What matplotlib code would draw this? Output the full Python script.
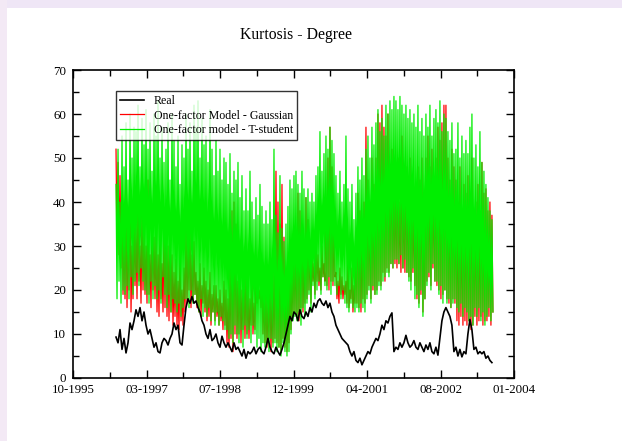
import matplotlib
matplotlib.use("Agg")
import matplotlib.pyplot as plt
from matplotlib.patches import Rectangle
from matplotlib.ticker import FixedLocator, MultipleLocator
import matplotlib.dates as mdates
import pandas as pd

plt.rcParams["font.family"] = ["Liberation Serif", "DejaVu Serif"]

title = "Kurtosis - Degree"
series_names = ["Real", "One-factor Model - Gaussian", "One-factor model - T-student"]
tick_labels = ["10-1995", "03-1997", "07-1998", "12-1999", "04-2001", "08-2002", "01-2004"]
axis_start, axis_end = "1995-10-01", "2004-01-01"
data_start, data_end = "1996-07-21", "2003-08-10"
real_end = "2003-08-03"

real = [
    9.3, 8, 11, 6.5, 9, 5.7,
    8, 12.5, 11,
    13, 15.5, 14, 16, 13, 15,
    12, 10, 11,
    9, 7, 8, 6, 5.7,
    8, 9, 8.5, 7.5, 9,
    10, 12.5, 11, 12, 8,
    7.5, 12, 16, 18, 17,
    18.5, 17, 17.5, 16, 15,
    13, 12, 10, 9, 11, 8.5,
    9, 10, 8, 7, 9.5, 8, 7, 8,
    7, 6, 8, 6.5, 7,
    6, 5, 6.5, 4.5, 6, 5.5,
    6, 7, 5.5, 6.5, 7, 6, 5.5, 7, 9,
    7, 6, 5.5, 7, 6, 5.2, 6.5,
    8, 10, 12,
    14, 13, 15, 14.5, 13, 15.5, 14, 13.5, 15,
    14, 16, 15, 17, 16, 17.5,
    18, 17, 16.5, 17.5, 16, 17, 15,
    14, 12, 11, 10, 9, 8.5, 8, 7.5,
    6, 5, 6, 4, 3.5, 4.5, 3, 4,
    5, 6, 5.5, 7, 8, 9, 8.5,
    10, 12, 11, 13, 12.5, 14, 14.8,
    6, 7, 6.5, 8,
    7, 8, 9.7, 8, 7, 7.5, 8.5, 7, 6.5, 8, 7, 6, 7.5, 6.5,
    8, 6, 5.5, 7, 5.2,
    9, 13, 15, 16,
    15, 14, 12,
    6, 7, 5, 6.5, 4.8, 6, 5.5,
    10, 13.3, 11,
    6.5, 7, 5.5, 6,
    5.5, 6, 4.5, 5, 4, 3.5,
]

gaussian = [
    52, 30, 49, 28, 46, 25, 40, 19, 35, 18,
    40, 16, 35, 20, 45, 15, 30, 18, 38, 21,
    35, 18, 42, 22, 30, 17, 38, 20, 33, 19,
    30, 17, 45, 19, 28, 16, 36, 20, 32, 18,
    33, 15, 28, 14, 40, 18, 26, 15, 35, 16,
    38, 14, 30, 13, 36, 15, 28, 12, 24, 14,
    27, 12, 22, 11, 30, 13, 20, 12, 25, 15,
    35, 17, 30, 20, 33, 16, 28, 18, 31, 19,
    24, 16, 22, 15, 26, 14, 21, 17, 25, 15,
    22, 13, 20, 14, 24, 12, 19, 15, 21, 13,
    21, 14, 18, 12, 20, 13, 17, 11, 22, 12,
    20, 8, 18, 7, 25, 9, 38, 6, 40, 10,
    35, 9, 22, 10, 25, 8, 20, 11, 24, 9,
    25, 10, 20, 9, 18, 12, 23, 10, 17, 11,
    24, 17, 22, 18, 20, 16, 23, 10, 19, 8,
    20, 7, 18, 9, 22, 6, 19, 8, 24, 9,
    47, 8, 40, 7, 35, 6, 44, 9, 32, 7,
    22, 6, 20, 8, 28, 11, 25, 14, 30, 15,
    30, 14, 42, 13, 38, 16, 35, 15, 28, 17,
    41, 18, 36, 20, 30, 17, 28, 22, 26, 19,
    30, 22, 28, 21, 25, 20, 30, 23, 26, 22,
    40, 21, 50, 20, 57, 22, 48, 21, 35, 23,
    24, 18, 22, 17, 25, 19, 23, 18, 21, 19,
    22, 17, 30, 16, 20, 18, 25, 15, 21, 17,
    30, 17, 42, 16, 38, 15, 32, 18, 40, 17,
    57, 19, 45, 21, 40, 18, 50, 20, 44, 19,
    50, 20, 60, 22, 58, 21, 62, 24, 57, 22,
    55, 25, 60, 24, 48, 26, 52, 25, 45, 26,
    45, 25, 50, 26, 40, 24, 55, 25, 42, 24,
    48, 24, 44, 23, 50, 22, 46, 24, 40, 21,
    42, 18, 48, 17, 45, 19, 50, 15, 40, 18,
    50, 22, 55, 23, 48, 21, 52, 25, 45, 22,
    50, 21, 57, 20, 54, 18, 58, 19, 62, 20,
    62, 18, 50, 17, 45, 16, 52, 18, 48, 17,
    45, 13, 40, 12, 48, 14, 38, 12, 44, 13,
    42, 12, 46, 13, 40, 11, 50, 12, 38, 14,
    40, 12, 44, 13, 38, 14, 49, 12, 42, 13,
    43, 13, 38, 14, 40, 12, 37, 15,
]

t_student = [
    44, 18, 52, 22, 40, 17, 55, 20, 48, 19,
    58, 21, 45, 18, 60, 23, 50, 19, 57, 22,
    56, 24, 62, 21, 48, 25, 59, 22, 53, 20,
    61, 19, 52, 17, 58, 22, 47, 18, 60, 21,
    55, 18, 63, 20, 50, 17, 57, 23, 49, 19,
    52, 16, 58, 19, 45, 15, 60, 18, 54, 17,
    48, 15, 55, 17, 44, 14, 53, 16, 50, 18,
    60, 18, 52, 16, 58, 20, 47, 17, 62, 19,
    57, 17, 63, 15, 50, 18, 59, 14, 53, 16,
    55, 14, 49, 16, 61, 13, 52, 15, 46, 12,
    54, 15, 47, 12, 52, 14, 45, 13, 50, 11,
    49, 11, 44, 9, 51, 10, 42, 8, 47, 12,
    45, 10, 49, 8, 41, 11, 46, 7, 38, 12,
    43, 9, 38, 11, 47, 8, 40, 12, 36, 10,
    41, 7, 37, 9, 44, 6, 39, 8, 35, 7,
    38, 8, 35, 6, 40, 9, 36, 7, 52, 8,
    37, 6, 33, 7, 46, 5, 34, 8, 31, 6,
    35, 5, 39, 6, 45, 10, 43, 13, 46, 14,
    47, 13, 44, 15, 42, 12, 47, 16, 43, 14,
    41, 17, 43, 19, 40, 15, 42, 21, 40, 18,
    46, 20, 48, 22, 56, 19, 47, 23, 51, 21,
    55, 20, 52, 23, 57, 19, 54, 22, 51, 21,
    46, 19, 42, 21, 47, 18, 40, 20, 44, 17,
    55, 16, 43, 15, 40, 17, 44, 16, 36, 15,
    42, 16, 48, 15, 45, 17, 50, 16, 46, 15,
    52, 18, 55, 20, 50, 17, 57, 21, 53, 19,
    58, 19, 61, 21, 56, 20, 59, 22, 55, 23,
    62, 24, 60, 23, 63, 26, 61, 25, 64, 27,
    63, 27, 61, 26, 64, 28, 62, 25, 60, 27,
    62, 24, 59, 22, 61, 20, 58, 25, 60, 18,
    57, 19, 62, 16, 56, 20, 59, 14, 55, 18,
    60, 21, 57, 24, 62, 20, 55, 26, 59, 22,
    61, 22, 58, 19, 63, 21, 56, 17, 60, 20,
    59, 17, 56, 18, 54, 16, 58, 17, 51, 18,
    52, 16, 58, 15, 50, 17, 55, 14, 51, 16,
    54, 15, 51, 13, 57, 14, 60, 12, 50, 16,
    53, 14, 48, 16, 56, 13, 49, 15, 47, 12,
    44, 14, 41, 16, 38, 13, 36, 15,
]

dates_model = pd.date_range(data_start, data_end, periods=len(t_student))
dates_real = pd.date_range(data_start, real_end, periods=len(real))

fig = plt.figure(figsize=(6.22, 4.41), dpi=100)
fig.patch.set_facecolor("white")
# lavender page margins along the top and left edges
fig.add_artist(Rectangle((0, 1 - 8 / 441), 1, 8 / 441, transform=fig.transFigure,
                         facecolor="#efe6f6", edgecolor="none", zorder=-10))
fig.add_artist(Rectangle((0, 0), 7 / 622, 1, transform=fig.transFigure,
                         facecolor="#f3e9f5", edgecolor="none", zorder=-10))

ax = fig.add_axes([73 / 622, 63 / 441, 441 / 622, 308 / 441])

l_real, = ax.plot(dates_real, real, color="black", lw=1.2, zorder=4)
l_gauss, = ax.plot(dates_model, gaussian, color="#ff0000", lw=0.9, zorder=2)
l_t, = ax.plot(dates_model, t_student, color="#00ee00", lw=0.9, zorder=3)

x0 = mdates.datestr2num(axis_start)
x1 = mdates.datestr2num(axis_end)
ax.set_xlim(x0, x1)
ax.set_ylim(0, 70)
step = (x1 - x0) / (len(tick_labels) - 1)
major = [x0 + i * step for i in range(len(tick_labels))]
minor = [x0 + (i + 0.5) * step for i in range(len(tick_labels) - 1)]
ax.xaxis.set_major_locator(FixedLocator(major))
ax.xaxis.set_minor_locator(FixedLocator(minor))
ax.set_xticklabels(tick_labels)
ax.yaxis.set_major_locator(MultipleLocator(10))
ax.yaxis.set_minor_locator(MultipleLocator(5))

ax.tick_params(which="both", direction="in", top=True, right=True,
               labelsize=9.3, width=1.0)
ax.tick_params(axis="x", pad=4.5)
ax.tick_params(axis="y", pad=5)
ax.tick_params(which="major", length=6)
ax.tick_params(which="minor", length=4)
for s in ax.spines.values():
    s.set_linewidth(1.2)

leg = ax.legend([l_real, l_gauss, l_t], series_names, loc="upper left",
                bbox_to_anchor=(43 / 441, 287 / 308), borderaxespad=0,
                fontsize=8.6, frameon=True, fancybox=False, handlelength=2.0,
                handletextpad=0.8, labelspacing=0.2, borderpad=0.35)
leg.get_frame().set_edgecolor("black")
leg.get_frame().set_linewidth(1.0)
leg.set_zorder(10)

fig.text(296 / 622, 1 - 35 / 441, title, ha="center", va="center", fontsize=11.3)

fig.savefig("out.png", dpi=100)
